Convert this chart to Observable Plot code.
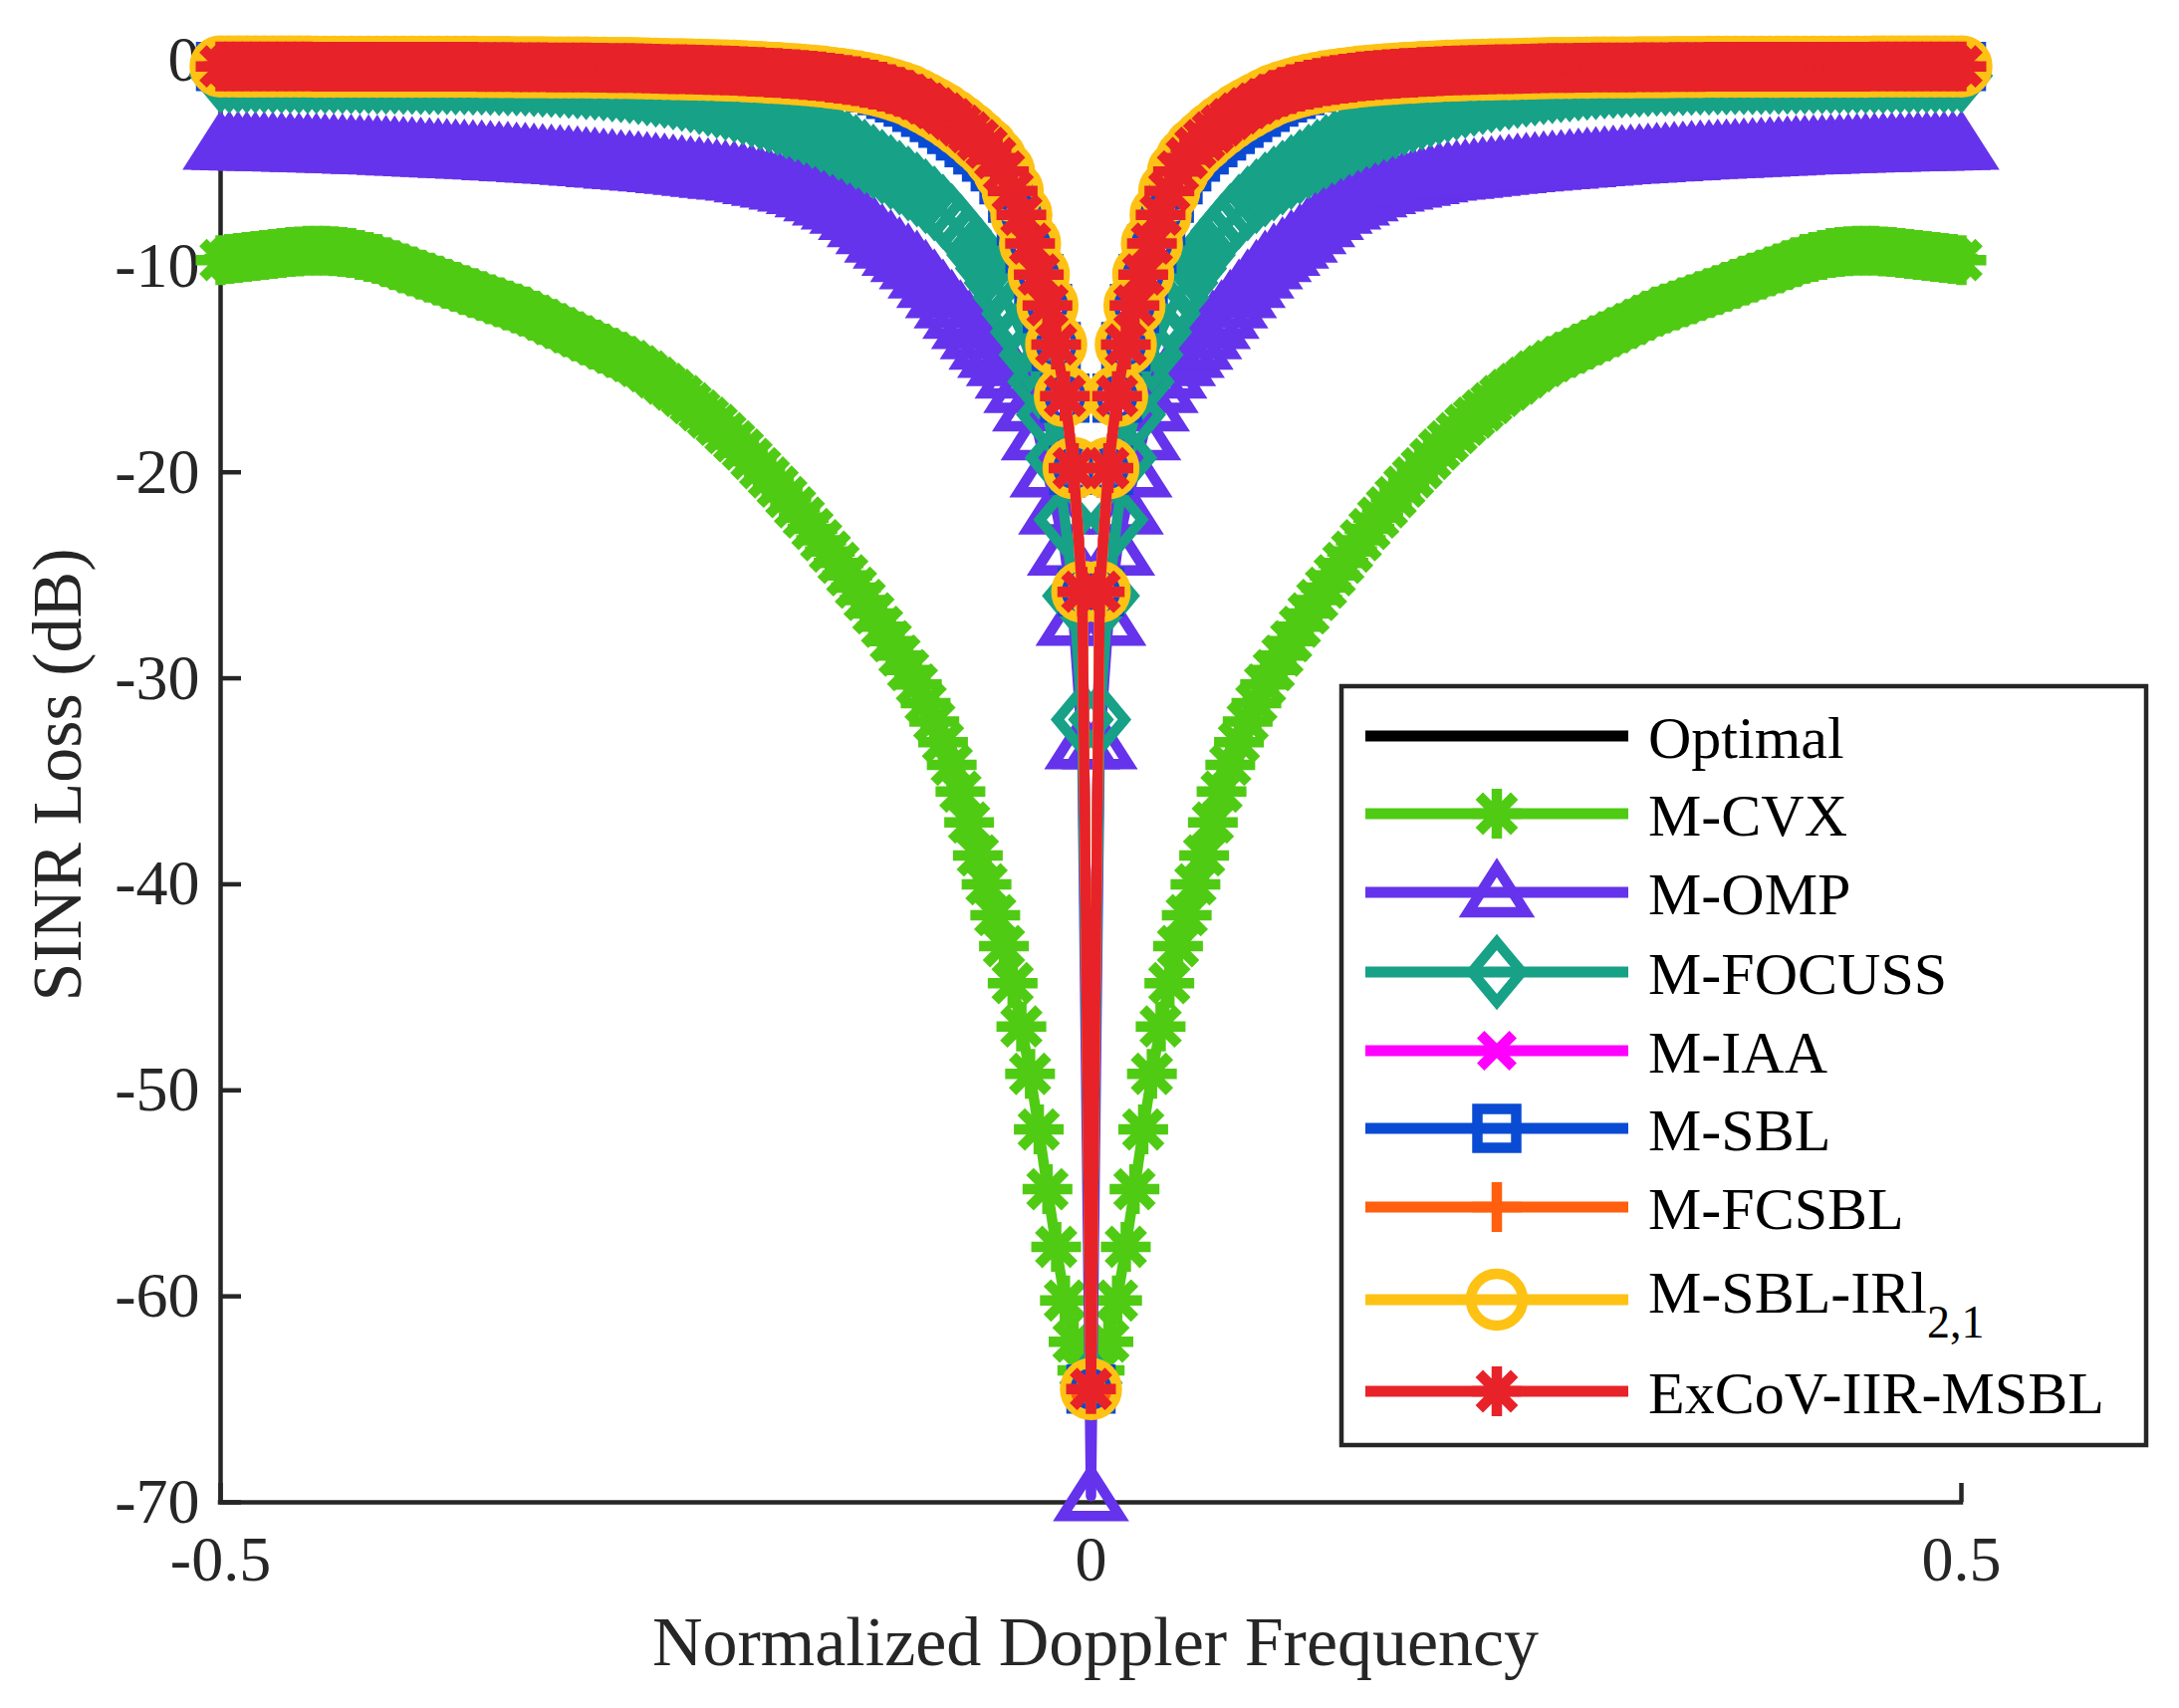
<!DOCTYPE html>
<html><head><meta charset="utf-8">
<script src="https://cdn.jsdelivr.net/npm/d3@7"></script>
<script src="https://cdn.jsdelivr.net/npm/@observablehq/plot@0.6"></script>
<style>html,body{margin:0;padding:0;background:#fff;overflow:hidden}</style>
</head><body><div id="chart"></div>
<script>
// Normalized Doppler frequency sample grid
const freq = [
-0.5,-0.495,-0.49,-0.485,-0.48,-0.475,-0.47,-0.465,-0.46,-0.455,
-0.45,-0.445,-0.44,-0.435,-0.43,-0.425,-0.42,-0.415,-0.41,-0.405,
-0.4,-0.395,-0.39,-0.385,-0.38,-0.375,-0.37,-0.365,-0.36,-0.355,
-0.35,-0.345,-0.34,-0.335,-0.33,-0.325,-0.32,-0.315,-0.31,-0.305,
-0.3,-0.295,-0.29,-0.285,-0.28,-0.275,-0.27,-0.265,-0.26,-0.255,
-0.25,-0.245,-0.24,-0.235,-0.23,-0.225,-0.22,-0.215,-0.21,-0.205,
-0.2,-0.195,-0.19,-0.185,-0.18,-0.175,-0.17,-0.165,-0.16,-0.155,
-0.15,-0.145,-0.14,-0.135,-0.13,-0.125,-0.12,-0.115,-0.11,-0.105,
-0.1,-0.095,-0.09,-0.085,-0.08,-0.075,-0.07,-0.065,-0.06,-0.055,
-0.05,-0.045,-0.04,-0.035,-0.03,-0.025,-0.02,-0.015,-0.01,-0.005,
0,
0.005,0.01,0.015,0.02,0.025,0.03,0.035,0.04,0.045,0.05,
0.055,0.06,0.065,0.07,0.075,0.08,0.085,0.09,0.095,0.1,
0.105,0.11,0.115,0.12,0.125,0.13,0.135,0.14,0.145,0.15,
0.155,0.16,0.165,0.17,0.175,0.18,0.185,0.19,0.195,0.2,
0.205,0.21,0.215,0.22,0.225,0.23,0.235,0.24,0.245,0.25,
0.255,0.26,0.265,0.27,0.275,0.28,0.285,0.29,0.295,0.3,
0.305,0.31,0.315,0.32,0.325,0.33,0.335,0.34,0.345,0.35,
0.355,0.36,0.365,0.37,0.375,0.38,0.385,0.39,0.395,0.4,
0.405,0.41,0.415,0.42,0.425,0.43,0.435,0.44,0.445,0.45,
0.455,0.46,0.465,0.47,0.475,0.48,0.485,0.49,0.495,0.5];

const optimal = [
-0.3,-0.3,-0.3,-0.3,-0.3,-0.3,-0.3,-0.3,-0.3,-0.3,
-0.3,-0.31,-0.31,-0.31,-0.31,-0.31,-0.31,-0.31,-0.31,-0.31,
-0.31,-0.32,-0.32,-0.32,-0.32,-0.32,-0.32,-0.32,-0.32,-0.32,
-0.33,-0.33,-0.33,-0.33,-0.34,-0.34,-0.34,-0.34,-0.35,-0.35,
-0.35,-0.35,-0.35,-0.36,-0.36,-0.37,-0.38,-0.38,-0.39,-0.4,
-0.41,-0.42,-0.43,-0.44,-0.45,-0.46,-0.47,-0.48,-0.5,-0.51,
-0.53,-0.55,-0.57,-0.6,-0.62,-0.65,-0.68,-0.71,-0.75,-0.79,
-0.84,-0.89,-0.95,-1.02,-1.1,-1.18,-1.28,-1.4,-1.53,-1.68,
-1.88,-2.1,-2.33,-2.58,-2.86,-3.17,-3.5,-3.87,-4.25,-4.75,
-5.4,-6.35,-7.5,-8.9,-10.4,-11.9,-13.8,-16.3,-19.8,-25.8,
-64.5,
-25.8,-19.8,-16.3,-13.8,-11.9,-10.4,-8.9,-7.5,-6.35,-5.4,
-4.75,-4.25,-3.87,-3.5,-3.17,-2.86,-2.58,-2.33,-2.1,-1.88,
-1.68,-1.53,-1.4,-1.28,-1.18,-1.1,-1.02,-0.95,-0.89,-0.84,
-0.79,-0.75,-0.71,-0.68,-0.65,-0.62,-0.6,-0.57,-0.55,-0.53,
-0.51,-0.5,-0.48,-0.47,-0.46,-0.45,-0.44,-0.43,-0.42,-0.41,
-0.4,-0.39,-0.38,-0.38,-0.37,-0.36,-0.36,-0.35,-0.35,-0.35,
-0.35,-0.35,-0.34,-0.34,-0.34,-0.34,-0.33,-0.33,-0.33,-0.33,
-0.32,-0.32,-0.32,-0.32,-0.32,-0.32,-0.32,-0.32,-0.32,-0.31,
-0.31,-0.31,-0.31,-0.31,-0.31,-0.31,-0.31,-0.31,-0.31,-0.3,
-0.3,-0.3,-0.3,-0.3,-0.3,-0.3,-0.3,-0.3,-0.3,-0.3];

const mCVX = [
-9.7,-9.65,-9.6,-9.55,-9.5,-9.45,-9.4,-9.35,-9.3,-9.28,
-9.25,-9.25,-9.25,-9.27,-9.3,-9.35,-9.45,-9.55,-9.65,-9.8,
-9.95,-10.1,-10.25,-10.4,-10.55,-10.7,-10.85,-11,-11.15,-11.3,
-11.45,-11.6,-11.75,-11.9,-12.05,-12.2,-12.4,-12.6,-12.8,-13,
-13.2,-13.4,-13.6,-13.8,-14,-14.2,-14.4,-14.6,-14.85,-15.1,
-15.4,-15.7,-16,-16.3,-16.65,-17,-17.35,-17.7,-18.1,-18.5,
-18.9,-19.35,-19.8,-20.25,-20.7,-21.2,-21.7,-22.2,-22.75,-23.3,
-23.85,-24.4,-25,-25.6,-26.2,-26.85,-27.5,-28.2,-28.9,-29.6,
-30.3,-31.2,-32.1,-33.1,-34.2,-35.5,-37,-38.6,-40,-41.5,
-43,-44.8,-46.9,-49.2,-51.9,-54.8,-57.6,-60.2,-62.2,-63.6,
-64.3,
-63.6,-62.2,-60.2,-57.6,-54.8,-51.9,-49.2,-46.9,-44.8,-43,
-41.5,-40,-38.6,-37,-35.5,-34.2,-33.1,-32.1,-31.2,-30.3,
-29.6,-28.9,-28.2,-27.5,-26.85,-26.2,-25.6,-25,-24.4,-23.85,
-23.3,-22.75,-22.2,-21.7,-21.2,-20.7,-20.25,-19.8,-19.35,-18.9,
-18.5,-18.1,-17.7,-17.35,-17,-16.65,-16.3,-16,-15.7,-15.4,
-15.1,-14.85,-14.6,-14.4,-14.2,-14,-13.8,-13.6,-13.4,-13.2,
-13,-12.8,-12.6,-12.4,-12.2,-12.05,-11.9,-11.75,-11.6,-11.45,
-11.3,-11.15,-11,-10.85,-10.7,-10.55,-10.4,-10.25,-10.1,-9.95,
-9.8,-9.65,-9.55,-9.45,-9.35,-9.3,-9.27,-9.25,-9.25,-9.25,
-9.28,-9.3,-9.35,-9.4,-9.45,-9.5,-9.55,-9.6,-9.65,-9.7];

const mOMP = [
-4.1,-4.11,-4.12,-4.13,-4.14,-4.15,-4.16,-4.17,-4.18,-4.19,
-4.2,-4.21,-4.23,-4.24,-4.26,-4.27,-4.29,-4.3,-4.32,-4.33,
-4.35,-4.37,-4.39,-4.41,-4.43,-4.45,-4.47,-4.49,-4.51,-4.53,
-4.55,-4.57,-4.6,-4.62,-4.65,-4.67,-4.7,-4.72,-4.75,-4.77,
-4.8,-4.83,-4.87,-4.9,-4.94,-4.97,-5.01,-5.04,-5.08,-5.11,
-5.15,-5.19,-5.23,-5.27,-5.32,-5.36,-5.41,-5.46,-5.51,-5.55,
-5.6,-5.68,-5.76,-5.85,-5.94,-6.03,-6.13,-6.25,-6.4,-6.6,
-6.8,-7,-7.2,-7.5,-7.85,-8.2,-8.6,-8.9,-9.25,-9.55,
-9.9,-10.35,-10.8,-11.3,-11.8,-12.3,-12.8,-13.3,-13.8,-14.2,
-14.6,-15.2,-15.9,-16.8,-18.2,-20,-21.8,-23.8,-27.2,-33.2,
-69.7,
-33.2,-27.2,-23.8,-21.8,-20,-18.2,-16.8,-15.9,-15.2,-14.6,
-14.2,-13.8,-13.3,-12.8,-12.3,-11.8,-11.3,-10.8,-10.35,-9.9,
-9.55,-9.25,-8.9,-8.6,-8.2,-7.85,-7.5,-7.2,-7,-6.8,
-6.6,-6.4,-6.25,-6.13,-6.03,-5.94,-5.85,-5.76,-5.68,-5.6,
-5.55,-5.51,-5.46,-5.41,-5.36,-5.32,-5.27,-5.23,-5.19,-5.15,
-5.11,-5.08,-5.04,-5.01,-4.97,-4.94,-4.9,-4.87,-4.83,-4.8,
-4.77,-4.75,-4.72,-4.7,-4.67,-4.65,-4.62,-4.6,-4.57,-4.55,
-4.53,-4.51,-4.49,-4.47,-4.45,-4.43,-4.41,-4.39,-4.37,-4.35,
-4.33,-4.32,-4.3,-4.29,-4.27,-4.26,-4.24,-4.23,-4.21,-4.2,
-4.19,-4.18,-4.17,-4.16,-4.15,-4.14,-4.13,-4.12,-4.11,-4.1];

const mFOCUSS = [
-0.75,-0.75,-0.75,-0.75,-0.75,-0.75,-0.76,-0.76,-0.76,-0.77,
-0.77,-0.77,-0.78,-0.78,-0.78,-0.79,-0.79,-0.79,-0.8,-0.8,
-0.8,-0.81,-0.81,-0.82,-0.82,-0.83,-0.83,-0.84,-0.84,-0.85,
-0.85,-0.86,-0.87,-0.88,-0.89,-0.9,-0.92,-0.94,-0.96,-0.98,
-1,-1.03,-1.06,-1.09,-1.13,-1.17,-1.21,-1.26,-1.31,-1.37,
-1.43,-1.49,-1.56,-1.63,-1.71,-1.79,-1.88,-1.97,-2.07,-2.18,
-2.3,-2.42,-2.55,-2.68,-2.82,-2.97,-3.12,-3.28,-3.45,-3.63,
-3.82,-4.02,-4.23,-4.45,-4.68,-4.92,-5.17,-5.43,-5.7,-5.98,
-6.27,-6.6,-6.95,-7.35,-7.8,-8.3,-8.85,-9.45,-10.1,-10.8,
-11.5,-12.3,-13.2,-14.3,-15.6,-17.2,-19.3,-22.3,-26,-32,
-64.2,
-32,-26,-22.3,-19.3,-17.2,-15.6,-14.3,-13.2,-12.3,-11.5,
-10.8,-10.1,-9.45,-8.85,-8.3,-7.8,-7.35,-6.95,-6.6,-6.27,
-5.98,-5.7,-5.43,-5.17,-4.92,-4.68,-4.45,-4.23,-4.02,-3.82,
-3.63,-3.45,-3.28,-3.12,-2.97,-2.82,-2.68,-2.55,-2.42,-2.3,
-2.18,-2.07,-1.97,-1.88,-1.79,-1.71,-1.63,-1.56,-1.49,-1.43,
-1.37,-1.31,-1.26,-1.21,-1.17,-1.13,-1.09,-1.06,-1.03,-1,
-0.98,-0.96,-0.94,-0.92,-0.9,-0.89,-0.88,-0.87,-0.86,-0.85,
-0.85,-0.84,-0.84,-0.83,-0.83,-0.82,-0.82,-0.81,-0.81,-0.8,
-0.8,-0.8,-0.79,-0.79,-0.79,-0.78,-0.78,-0.78,-0.77,-0.77,
-0.77,-0.76,-0.76,-0.76,-0.75,-0.75,-0.75,-0.75,-0.75,-0.75];

const mIAA = [
-0.3,-0.3,-0.3,-0.3,-0.3,-0.3,-0.3,-0.3,-0.3,-0.3,
-0.3,-0.31,-0.31,-0.31,-0.31,-0.31,-0.31,-0.31,-0.31,-0.31,
-0.31,-0.32,-0.32,-0.32,-0.32,-0.32,-0.32,-0.32,-0.32,-0.32,
-0.33,-0.33,-0.33,-0.33,-0.34,-0.34,-0.34,-0.34,-0.35,-0.35,
-0.35,-0.35,-0.35,-0.36,-0.36,-0.37,-0.38,-0.38,-0.39,-0.4,
-0.41,-0.42,-0.43,-0.44,-0.45,-0.46,-0.47,-0.48,-0.5,-0.51,
-0.53,-0.55,-0.57,-0.6,-0.62,-0.65,-0.68,-0.71,-0.75,-0.79,
-0.84,-0.89,-0.95,-1.02,-1.1,-1.18,-1.28,-1.4,-1.53,-1.68,
-1.88,-2.1,-2.33,-2.58,-2.86,-3.17,-3.5,-3.87,-4.25,-4.75,
-5.4,-6.35,-7.5,-8.9,-10.4,-11.9,-13.8,-16.3,-19.8,-25.8,
-64.1,
-25.8,-19.8,-16.3,-13.8,-11.9,-10.4,-8.9,-7.5,-6.35,-5.4,
-4.75,-4.25,-3.87,-3.5,-3.17,-2.86,-2.58,-2.33,-2.1,-1.88,
-1.68,-1.53,-1.4,-1.28,-1.18,-1.1,-1.02,-0.95,-0.89,-0.84,
-0.79,-0.75,-0.71,-0.68,-0.65,-0.62,-0.6,-0.57,-0.55,-0.53,
-0.51,-0.5,-0.48,-0.47,-0.46,-0.45,-0.44,-0.43,-0.42,-0.41,
-0.4,-0.39,-0.38,-0.38,-0.37,-0.36,-0.36,-0.35,-0.35,-0.35,
-0.35,-0.35,-0.34,-0.34,-0.34,-0.34,-0.33,-0.33,-0.33,-0.33,
-0.32,-0.32,-0.32,-0.32,-0.32,-0.32,-0.32,-0.32,-0.32,-0.31,
-0.31,-0.31,-0.31,-0.31,-0.31,-0.31,-0.31,-0.31,-0.31,-0.3,
-0.3,-0.3,-0.3,-0.3,-0.3,-0.3,-0.3,-0.3,-0.3,-0.3];

const mSBL = [
-0.3,-0.3,-0.3,-0.3,-0.3,-0.3,-0.3,-0.3,-0.3,-0.3,
-0.3,-0.31,-0.31,-0.31,-0.31,-0.31,-0.31,-0.31,-0.31,-0.31,
-0.31,-0.32,-0.32,-0.32,-0.32,-0.32,-0.32,-0.32,-0.32,-0.32,
-0.33,-0.33,-0.33,-0.33,-0.34,-0.34,-0.34,-0.34,-0.35,-0.35,
-0.35,-0.35,-0.35,-0.36,-0.36,-0.37,-0.38,-0.38,-0.39,-0.4,
-0.41,-0.42,-0.43,-0.44,-0.45,-0.46,-0.47,-0.48,-0.5,-0.51,
-0.53,-0.55,-0.57,-0.6,-0.62,-0.65,-0.68,-0.71,-0.75,-0.79,
-0.84,-0.9,-1,-1.09,-1.2,-1.33,-1.48,-1.65,-1.83,-2.03,
-2.28,-2.52,-2.78,-3.06,-3.36,-3.67,-4,-4.35,-4.7,-5.17,
-5.8,-6.7,-7.8,-9.15,-10.6,-12.05,-13.9,-16.4,-19.9,-25.8,
-64.5,
-25.8,-19.9,-16.4,-13.9,-12.05,-10.6,-9.15,-7.8,-6.7,-5.8,
-5.17,-4.7,-4.35,-4,-3.67,-3.36,-3.06,-2.78,-2.52,-2.28,
-2.03,-1.83,-1.65,-1.48,-1.33,-1.2,-1.09,-1,-0.9,-0.84,
-0.79,-0.75,-0.71,-0.68,-0.65,-0.62,-0.6,-0.57,-0.55,-0.53,
-0.51,-0.5,-0.48,-0.47,-0.46,-0.45,-0.44,-0.43,-0.42,-0.41,
-0.4,-0.39,-0.38,-0.38,-0.37,-0.36,-0.36,-0.35,-0.35,-0.35,
-0.35,-0.35,-0.34,-0.34,-0.34,-0.34,-0.33,-0.33,-0.33,-0.33,
-0.32,-0.32,-0.32,-0.32,-0.32,-0.32,-0.32,-0.32,-0.32,-0.31,
-0.31,-0.31,-0.31,-0.31,-0.31,-0.31,-0.31,-0.31,-0.31,-0.3,
-0.3,-0.3,-0.3,-0.3,-0.3,-0.3,-0.3,-0.3,-0.3,-0.3];

const mFCSBL = [
-0.3,-0.3,-0.3,-0.3,-0.3,-0.3,-0.3,-0.3,-0.3,-0.3,
-0.3,-0.31,-0.31,-0.31,-0.31,-0.31,-0.31,-0.31,-0.31,-0.31,
-0.31,-0.32,-0.32,-0.32,-0.32,-0.32,-0.32,-0.32,-0.32,-0.32,
-0.33,-0.33,-0.33,-0.33,-0.34,-0.34,-0.34,-0.34,-0.35,-0.35,
-0.35,-0.35,-0.35,-0.36,-0.36,-0.37,-0.38,-0.38,-0.39,-0.4,
-0.41,-0.42,-0.43,-0.44,-0.45,-0.46,-0.47,-0.48,-0.5,-0.51,
-0.53,-0.55,-0.57,-0.6,-0.62,-0.65,-0.68,-0.71,-0.75,-0.79,
-0.84,-0.89,-0.95,-1.02,-1.1,-1.18,-1.28,-1.4,-1.53,-1.68,
-1.88,-2.1,-2.33,-2.58,-2.86,-3.17,-3.5,-3.87,-4.25,-4.75,
-5.4,-6.35,-7.5,-8.9,-10.4,-11.9,-13.8,-16.3,-19.8,-25.8,
-64.8,
-25.8,-19.8,-16.3,-13.8,-11.9,-10.4,-8.9,-7.5,-6.35,-5.4,
-4.75,-4.25,-3.87,-3.5,-3.17,-2.86,-2.58,-2.33,-2.1,-1.88,
-1.68,-1.53,-1.4,-1.28,-1.18,-1.1,-1.02,-0.95,-0.89,-0.84,
-0.79,-0.75,-0.71,-0.68,-0.65,-0.62,-0.6,-0.57,-0.55,-0.53,
-0.51,-0.5,-0.48,-0.47,-0.46,-0.45,-0.44,-0.43,-0.42,-0.41,
-0.4,-0.39,-0.38,-0.38,-0.37,-0.36,-0.36,-0.35,-0.35,-0.35,
-0.35,-0.35,-0.34,-0.34,-0.34,-0.34,-0.33,-0.33,-0.33,-0.33,
-0.32,-0.32,-0.32,-0.32,-0.32,-0.32,-0.32,-0.32,-0.32,-0.31,
-0.31,-0.31,-0.31,-0.31,-0.31,-0.31,-0.31,-0.31,-0.31,-0.3,
-0.3,-0.3,-0.3,-0.3,-0.3,-0.3,-0.3,-0.3,-0.3,-0.3];

const mSBLIRl = [
-0.3,-0.3,-0.3,-0.3,-0.3,-0.3,-0.3,-0.3,-0.3,-0.3,
-0.3,-0.31,-0.31,-0.31,-0.31,-0.31,-0.31,-0.31,-0.31,-0.31,
-0.31,-0.32,-0.32,-0.32,-0.32,-0.32,-0.32,-0.32,-0.32,-0.32,
-0.33,-0.33,-0.33,-0.33,-0.34,-0.34,-0.34,-0.34,-0.35,-0.35,
-0.35,-0.35,-0.35,-0.36,-0.36,-0.37,-0.38,-0.38,-0.39,-0.4,
-0.41,-0.42,-0.43,-0.44,-0.45,-0.46,-0.47,-0.48,-0.5,-0.51,
-0.53,-0.55,-0.57,-0.6,-0.62,-0.65,-0.68,-0.71,-0.75,-0.79,
-0.84,-0.89,-0.95,-1.02,-1.1,-1.18,-1.28,-1.4,-1.53,-1.68,
-1.88,-2.1,-2.33,-2.58,-2.86,-3.17,-3.5,-3.87,-4.25,-4.75,
-5.4,-6.35,-7.5,-8.9,-10.4,-11.9,-13.8,-16.3,-19.8,-25.8,
-64.5,
-25.8,-19.8,-16.3,-13.8,-11.9,-10.4,-8.9,-7.5,-6.35,-5.4,
-4.75,-4.25,-3.87,-3.5,-3.17,-2.86,-2.58,-2.33,-2.1,-1.88,
-1.68,-1.53,-1.4,-1.28,-1.18,-1.1,-1.02,-0.95,-0.89,-0.84,
-0.79,-0.75,-0.71,-0.68,-0.65,-0.62,-0.6,-0.57,-0.55,-0.53,
-0.51,-0.5,-0.48,-0.47,-0.46,-0.45,-0.44,-0.43,-0.42,-0.41,
-0.4,-0.39,-0.38,-0.38,-0.37,-0.36,-0.36,-0.35,-0.35,-0.35,
-0.35,-0.35,-0.34,-0.34,-0.34,-0.34,-0.33,-0.33,-0.33,-0.33,
-0.32,-0.32,-0.32,-0.32,-0.32,-0.32,-0.32,-0.32,-0.32,-0.31,
-0.31,-0.31,-0.31,-0.31,-0.31,-0.31,-0.31,-0.31,-0.31,-0.3,
-0.3,-0.3,-0.3,-0.3,-0.3,-0.3,-0.3,-0.3,-0.3,-0.3];

const exCoV = [
-0.3,-0.3,-0.3,-0.3,-0.3,-0.3,-0.3,-0.3,-0.3,-0.3,
-0.3,-0.31,-0.31,-0.31,-0.31,-0.31,-0.31,-0.31,-0.31,-0.31,
-0.31,-0.32,-0.32,-0.32,-0.32,-0.32,-0.32,-0.32,-0.32,-0.32,
-0.33,-0.33,-0.33,-0.33,-0.34,-0.34,-0.34,-0.34,-0.35,-0.35,
-0.35,-0.35,-0.35,-0.36,-0.36,-0.37,-0.38,-0.38,-0.39,-0.4,
-0.41,-0.42,-0.43,-0.44,-0.45,-0.46,-0.47,-0.48,-0.5,-0.51,
-0.53,-0.55,-0.57,-0.6,-0.62,-0.65,-0.68,-0.71,-0.75,-0.79,
-0.84,-0.89,-0.95,-1.02,-1.1,-1.18,-1.28,-1.4,-1.53,-1.68,
-1.88,-2.1,-2.33,-2.58,-2.86,-3.17,-3.5,-3.87,-4.25,-4.75,
-5.4,-6.35,-7.5,-8.9,-10.4,-11.9,-13.8,-16.3,-19.8,-25.8,
-64.5,
-25.8,-19.8,-16.3,-13.8,-11.9,-10.4,-8.9,-7.5,-6.35,-5.4,
-4.75,-4.25,-3.87,-3.5,-3.17,-2.86,-2.58,-2.33,-2.1,-1.88,
-1.68,-1.53,-1.4,-1.28,-1.18,-1.1,-1.02,-0.95,-0.89,-0.84,
-0.79,-0.75,-0.71,-0.68,-0.65,-0.62,-0.6,-0.57,-0.55,-0.53,
-0.51,-0.5,-0.48,-0.47,-0.46,-0.45,-0.44,-0.43,-0.42,-0.41,
-0.4,-0.39,-0.38,-0.38,-0.37,-0.36,-0.36,-0.35,-0.35,-0.35,
-0.35,-0.35,-0.34,-0.34,-0.34,-0.34,-0.33,-0.33,-0.33,-0.33,
-0.32,-0.32,-0.32,-0.32,-0.32,-0.32,-0.32,-0.32,-0.32,-0.31,
-0.31,-0.31,-0.31,-0.31,-0.31,-0.31,-0.31,-0.31,-0.31,-0.3,
-0.3,-0.3,-0.3,-0.3,-0.3,-0.3,-0.3,-0.3,-0.3,-0.3];

const xTicks = [-0.5, 0, 0.5];
const yTicks = [0, -10, -20, -30, -40, -50, -60, -70];
const seriesNames = ["Optimal", "M-CVX", "M-OMP", "M-FOCUSS", "M-IAA", "M-SBL", "M-FCSBL", "M-SBL-IRl", "ExCoV-IIR-MSBL"];
const xLabel = "Normalized Doppler Frequency";
const yLabel = "SINR Loss (dB)";

// MATLAB-like marker shapes
const rad = s => Math.sqrt(s / Math.PI);
const symAsterisk = {draw(c, s) { const r = rad(s), d = r * 0.7071;
  c.moveTo(-r, 0); c.lineTo(r, 0); c.moveTo(0, -r); c.lineTo(0, r);
  c.moveTo(-d, -d); c.lineTo(d, d); c.moveTo(-d, d); c.lineTo(d, -d); }};
const symTriangle = {draw(c, s) { const r = rad(s);
  c.moveTo(0, -r); c.lineTo(1.15 * r, 0.8 * r); c.lineTo(-1.15 * r, 0.8 * r); c.closePath(); }};
const symDiamond = {draw(c, s) { const r = rad(s);
  c.moveTo(0, -1.2 * r); c.lineTo(r, 0); c.lineTo(0, 1.2 * r); c.lineTo(-r, 0); c.closePath(); }};
const symX = {draw(c, s) { const r = rad(s) * 0.65;
  c.moveTo(-r, -r); c.lineTo(r, r); c.moveTo(-r, r); c.lineTo(r, -r); }};
const symSquare = {draw(c, s) { const r = rad(s) * 0.78; c.rect(-r, -r, 2 * r, 2 * r); }};
const symPlus = {draw(c, s) { const r = rad(s);
  c.moveTo(-r, 0); c.lineTo(r, 0); c.moveTo(0, -r); c.lineTo(0, r); }};
const symCircle = {draw(c, s) { const r = rad(s) * 1.04; c.moveTo(r, 0); c.arc(0, 0, r, 0, 2 * Math.PI); }};

const series = [
  {name: seriesNames[0], values: optimal, color: "#000000", symbol: null},
  {name: seriesNames[1], values: mCVX, color: "#50CB14", symbol: symAsterisk},
  {name: seriesNames[2], values: mOMP, color: "#6533EB", symbol: symTriangle},
  {name: seriesNames[3], values: mFOCUSS, color: "#17A187", symbol: symDiamond},
  {name: seriesNames[4], values: mIAA, color: "#FF00FF", symbol: symX},
  {name: seriesNames[5], values: mSBL, color: "#0A4BD4", symbol: symSquare},
  {name: seriesNames[6], values: mFCSBL, color: "#FF5F0F", symbol: symPlus},
  {name: seriesNames[7], values: mSBLIRl, color: "#FDC214", symbol: symCircle, sub: "2,1"},
  {name: seriesNames[8], values: exCoV, color: "#E82229", symbol: symAsterisk}
];

const AX = "#262626";
const LW = 10.5;
const MR = 25;

const marks = [
  Plot.ruleY([-70], {stroke: AX, strokeWidth: 4.5, strokeLinecap: "square"}),
  Plot.ruleX([-0.5], {stroke: AX, strokeWidth: 4.5, strokeLinecap: "square"}),
  Plot.axisY({ticks: yTicks, tickFormat: d => String(d), tickSize: -21, tickPadding: 42,
    fontSize: 64, label: null, stroke: AX, strokeWidth: 4.5}),
  Plot.axisX({ticks: xTicks, tickFormat: d => String(d), tickSize: -19, tickPadding: 52,
    fontSize: 64, label: null, stroke: AX, strokeWidth: 4.5})
];
for (const s of series) {
  marks.push(Plot.line(s.values, {x: freq, y: s.values, stroke: s.color, strokeWidth: LW,
    strokeLinejoin: "round", strokeLinecap: "butt"}));
  if (s.symbol) marks.push(Plot.dot(s.values, {x: freq, y: s.values, r: MR, symbol: s.symbol,
    fill: "none", stroke: s.color, strokeWidth: LW, strokeLinejoin: "miter",
    strokeMiterlimit: 10, strokeLinecap: "butt"}));
}

const chart = Plot.plot({
  width: 2188, height: 1715,
  marginLeft: 221, marginRight: 219, marginTop: 60, marginBottom: 207,
  x: {domain: [-0.5, 0.5]},
  y: {domain: [-70, 0]},
  style: {fontFamily: "Liberation Serif", fontSize: "64px", color: AX, background: "#ffffff"},
  marks
});
document.getElementById("chart").append(chart);

const svg = d3.select(chart);
svg.append("text").attr("x", 1100).attr("y", 1672).attr("text-anchor", "middle")
  .attr("font-family", "Liberation Serif").attr("font-size", 70).attr("fill", AX).text(xLabel);
svg.append("text").attr("transform", "translate(81,778) rotate(-90)").attr("text-anchor", "middle")
  .attr("font-family", "Liberation Serif").attr("font-size", 70).attr("fill", AX).text(yLabel);

// legend box
const lg = svg.append("g").attr("font-family", "Liberation Serif").attr("text-anchor", "start");
lg.append("rect").attr("x", 1347).attr("y", 689).attr("width", 808).attr("height", 762)
  .attr("fill", "#ffffff").attr("stroke", AX).attr("stroke-width", 4.5);
const rowY = [739, 817, 896, 976, 1055, 1133, 1212, 1305, 1397];
series.forEach((s, i) => {
  const y = rowY[i];
  lg.append("line").attr("x1", 1371).attr("x2", 1635).attr("y1", y).attr("y2", y)
    .attr("stroke", s.color).attr("stroke-width", 11);
  if (s.symbol) lg.append("path").attr("transform", `translate(1503,${y})`)
    .attr("d", d3.symbol(s.symbol, MR * MR * Math.PI)())
    .attr("fill", "none").attr("stroke", s.color).attr("stroke-width", LW)
    .attr("stroke-linejoin", "miter").attr("stroke-miterlimit", 10);
  const t = lg.append("text").attr("x", 1655).attr("y", y + (s.sub ? 13 : 22))
    .attr("text-anchor", "start").attr("font-size", 60).attr("fill", "#000").text(s.name);
  if (s.sub) t.append("tspan").attr("font-size", 46).attr("dy", 25).text(s.sub);
});
</script>
</body></html>
